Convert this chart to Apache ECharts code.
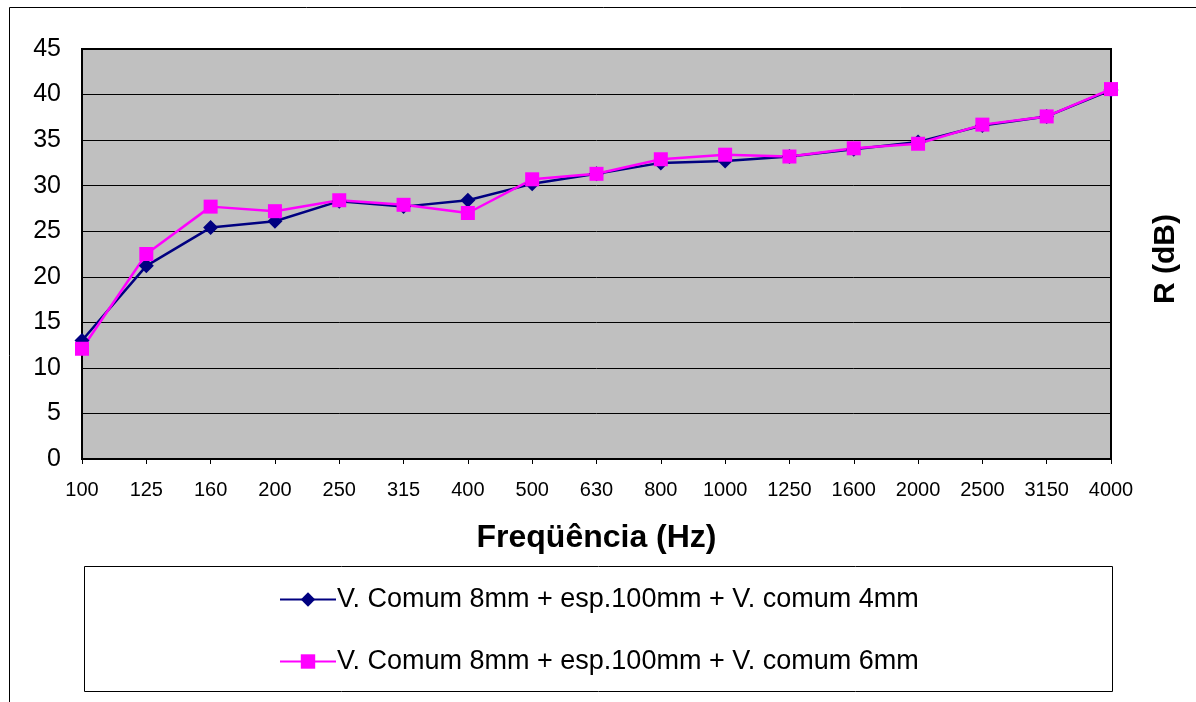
<!DOCTYPE html>
<html>
<head>
<meta charset="utf-8">
<title>R (dB) x Frequência</title>
<script src="https://cdn.jsdelivr.net/npm/echarts@6/dist/echarts.min.js"></script>
<style>
    html, body { margin: 0; padding: 0; background: #fff; }
    #chart { width: 1196px; height: 702px; }
</style>
</head>
<body>
<div id="chart"></div>
<script>
// frequências (Hz)
var freqs = ['100', '125', '160', '200', '250', '315', '400', '500', '630', '800',
    '1000', '1250', '1600', '2000', '2500', '3150', '4000'];
// V. comum 8mm + esp.100mm + V. comum 4mm
var r4mm = [13.0, 21.2, 25.4, 26.1, 28.3, 27.7, 28.4, 30.2, 31.3, 32.5,
    32.7, 33.2, 34.0, 34.8, 36.6, 37.6, 40.5];
// V. comum 8mm + esp.100mm + V. comum 6mm
var r6mm = [12.1, 22.5, 27.7, 27.2, 28.4, 27.9, 27.0, 30.7, 31.3, 32.9,
    33.4, 33.2, 34.1, 34.6, 36.7, 37.6, 40.6];
var seriesNames = ['V. Comum 8mm + esp.100mm + V. comum 4mm', 'V. Comum 8mm + esp.100mm + V. comum 6mm'];

var font = 'Arial, "Liberation Sans", sans-serif';
var myChart = echarts.init(document.getElementById('chart'));

var option = {
    backgroundColor: '#fff',
    animation: false,
    textStyle: { fontFamily: font },
    graphic: [
        {   // moldura externa
            type: 'rect',
            shape: { x: 9.5, y: 7.5, width: 1200, height: 720 },
            style: { fill: 'none', stroke: '#000', lineWidth: 1 }
        },
        {   // caixa da legenda
            type: 'rect',
            shape: { x: 84.5, y: 566.5, width: 1028, height: 125 },
            style: { fill: '#fff', stroke: '#000', lineWidth: 1 },
            z: 0
        }
    ],
    grid: {
        left: 82,
        right: 85,
        top: 49,
        bottom: 243,
        show: true,
        backgroundColor: '#C0C0C0',
        borderColor: '#000',
        borderWidth: 2
    },
    legend: {
        orient: 'vertical',
        left: 274,
        top: 581,
        itemWidth: 56,
        itemHeight: 18,
        itemGap: 35,
        z: 5,
        textStyle: { fontSize: 27, color: '#000', fontFamily: font, padding: [0, 0, 0, -4] },
        data: seriesNames
    },
    xAxis: {
        type: 'category',
        data: freqs,
        boundaryGap: false,
        name: 'Freqüência (Hz)',
        nameLocation: 'middle',
        nameGap: 63,
        nameTextStyle: { fontSize: 32, fontWeight: 'bold', color: '#000', fontFamily: font },
        axisLine: { lineStyle: { color: '#000', width: 2 } },
        axisTick: { show: true, length: 5, alignWithLabel: true, lineStyle: { color: '#000' } },
        axisLabel: { fontSize: 20, color: '#000', margin: 21, fontFamily: font },
        splitLine: { show: false }
    },
    yAxis: [
        {
            type: 'value',
            min: 0,
            max: 45,
            interval: 5,
            axisLine: { show: true, lineStyle: { color: '#000', width: 2 } },
            axisTick: { show: false },
            axisLabel: { fontSize: 25, color: '#000', margin: 21, fontFamily: font },
            splitLine: { show: true, lineStyle: { color: '#000', width: 1 } }
        },
        {
            type: 'value',
            position: 'right',
            min: 0,
            max: 45,
            interval: 5,
            name: 'R (dB)',
            nameLocation: 'middle',
            nameRotate: 90,
            nameGap: 40,
            nameTextStyle: { fontSize: 30, fontWeight: 'bold', color: '#000', fontFamily: font, padding: [0, 10, 0, 0] },
            axisLine: { show: false },
            axisTick: { show: false },
            axisLabel: { show: false },
            splitLine: { show: false }
        }
    ],
    series: [
        {
            name: seriesNames[0],
            type: 'line',
            data: r4mm,
            color: '#000080',
            symbol: 'diamond',
            symbolSize: 15,
            lineStyle: { width: 2.5, color: '#000080' },
            itemStyle: { color: '#000080' }
        },
        {
            name: seriesNames[1],
            type: 'line',
            data: r6mm,
            color: '#FF00FF',
            symbol: 'rect',
            symbolSize: 14,
            lineStyle: { width: 2.5, color: '#FF00FF' },
            itemStyle: { color: '#FF00FF' }
        }
    ]
};
myChart.setOption(option);
</script>
</body>
</html>
